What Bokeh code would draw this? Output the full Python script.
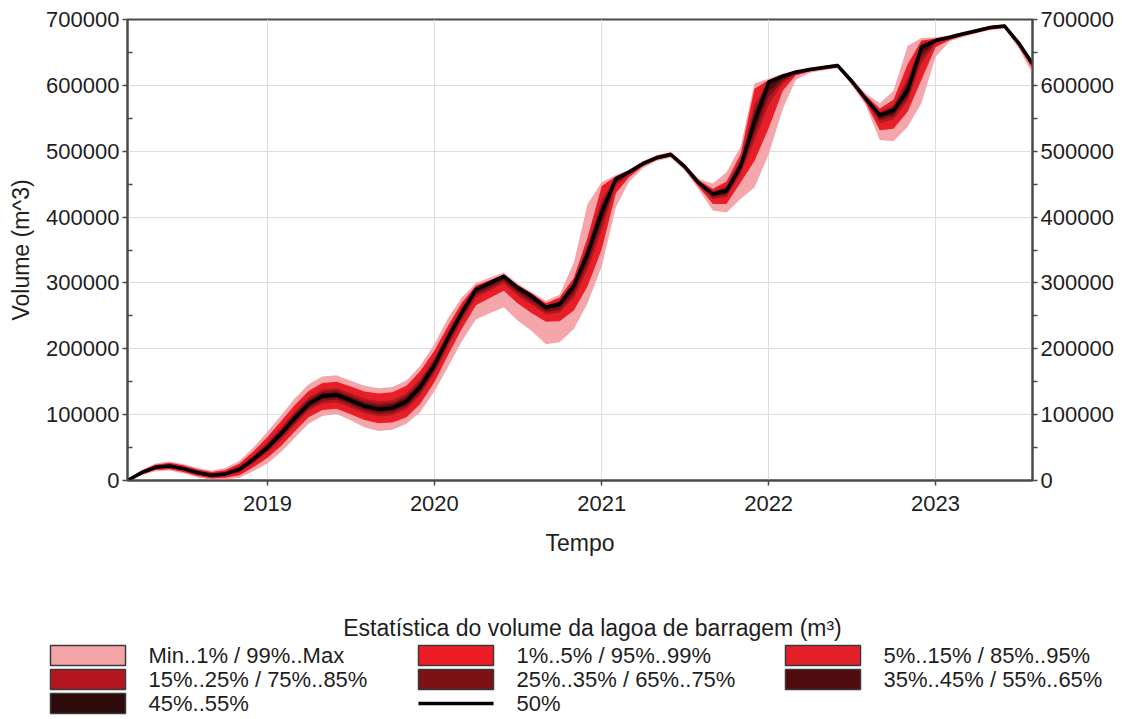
import pandas as pd
from bokeh.plotting import figure
from bokeh.models import (Range1d, LinearAxis, FixedTicker, NumeralTickFormatter,
                          DatetimeTickFormatter, ColumnDataSource)
from bokeh.core.properties import value
from bokeh.embed import file_html
from bokeh.resources import INLINE

# ---------------- data (volumes in thousand m3, monthly Mar 2018 .. Aug 2023) ----------------
first_month = "2018-03-01"
n_months = 66

p50 = [0, 12, 20, 22, 18, 12, 8, 10, 17, 32,
       50, 72, 94, 116, 128, 130, 122, 113, 108, 110, 120, 142,
       175, 218, 255, 290, 300, 310, 293, 280, 263, 268, 296, 345,
       407, 458, 468, 481, 490, 495, 477, 452, 435, 440, 478, 545,
       605, 614, 620, 624, 627, 630, 607, 580, 555, 562, 592, 658,
       668, 673, 678, 683, 688, 690, 665, 633]

# distance of each lower percentile below the median
lo_min = [0, 4, 6, 7, 7, 7, 7, 9, 13, 18,
          24, 28, 30, 30, 30, 29, 30, 32, 33, 33, 34, 38,
          40, 44, 44, 45, 46, 47, 50, 53, 56, 58, 66, 76,
          82, 43, 15, 7, 5, 5, 6, 10, 25, 33, 50, 100,
          110, 50, 12, 5, 4, 4, 6, 10, 38, 47, 55, 85,
          25, 6, 5, 4, 4, 4, 8, 15]
lo_p01 = [0, 3, 4, 5, 5, 5, 5, 6, 9, 12,
          16, 19, 20, 20, 21, 21, 21, 21, 21, 22, 24, 26,
          26, 26, 25, 24, 23, 22, 24, 26, 22, 26, 38, 50,
          56, 22, 8, 4, 3, 3, 4, 6, 15, 20, 25, 60,
          70, 22, 5, 3, 3, 3, 4, 6, 23, 28, 32, 50,
          10, 4, 3, 3, 3, 3, 5, 8]
lo_p05 = [0, 2, 3, 4, 4, 4, 4, 5, 7, 10,
          13, 15, 16, 16, 17, 17, 17, 17, 17, 18, 19, 21,
          21, 21, 20, 19, 18, 18, 19, 21, 18, 21, 30, 40,
          45, 18, 6, 3, 2, 2, 3, 5, 12, 16, 20, 48,
          56, 18, 4, 2, 2, 2, 3, 5, 18, 22, 26, 40,
          8, 3, 2, 2, 2, 2, 4, 6]
lo_p15 = [0, 2, 2, 3, 3, 3, 3, 3, 5, 6,
          8, 10, 10, 10, 11, 11, 11, 11, 11, 11, 12, 13,
          13, 13, 13, 12, 12, 11, 12, 13, 11, 13, 19, 25,
          28, 11, 4, 2, 2, 2, 2, 3, 8, 10, 13, 30,
          35, 11, 3, 2, 2, 2, 2, 3, 12, 14, 16, 25,
          5, 2, 2, 2, 2, 2, 3, 4]
lo_p25 = [0, 1, 1, 2, 2, 2, 2, 2, 3, 4,
          5, 6, 7, 7, 7, 7, 7, 7, 7, 7, 8, 9,
          9, 9, 8, 8, 8, 7, 8, 9, 7, 9, 13, 17,
          18, 7, 3, 1, 1, 1, 1, 2, 5, 7, 8, 20,
          23, 7, 2, 1, 1, 1, 1, 2, 8, 9, 11, 17,
          3, 1, 1, 1, 1, 1, 2, 3]
lo_p35 = [0, 1, 1, 1, 1, 1, 1, 1, 2, 2,
          3, 4, 4, 4, 4, 4, 4, 4, 4, 4, 5, 5,
          5, 5, 5, 5, 5, 4, 5, 5, 4, 5, 8, 10,
          11, 4, 2, 1, 1, 1, 1, 1, 3, 4, 5, 12,
          14, 4, 1, 1, 1, 1, 1, 1, 5, 6, 6, 10,
          2, 1, 1, 1, 1, 1, 1, 2]
lo_p45 = [0, 0, 0, 0, 0, 0, 0, 0, 1, 1,
          1, 1, 1, 1, 1, 1, 1, 1, 1, 2, 2, 2,
          2, 2, 2, 2, 2, 2, 2, 2, 2, 2, 3, 4,
          4, 2, 1, 0, 0, 0, 0, 0, 1, 1, 2, 4,
          5, 2, 0, 0, 0, 0, 0, 0, 2, 2, 2, 4,
          1, 0, 0, 0, 0, 0, 0, 1]

# distance of each upper percentile above the median
hi_max = [0, 4, 6, 7, 7, 7, 7, 9, 13, 18,
          24, 28, 30, 30, 30, 30, 30, 31, 32, 32, 32, 32,
          32, 30, 23, 10, 8, 6, 6, 6, 10, 14, 35, 75,
          46, 6, 4, 4, 4, 4, 4, 6, 16, 28, 30, 58,
          5, 4, 3, 3, 3, 3, 4, 8, 18, 30, 68, 14,
          5, 3, 3, 3, 3, 3, 4, 4]
hi_p99 = [0, 3, 4, 5, 5, 5, 5, 6, 9, 12,
          16, 19, 20, 20, 20, 20, 21, 22, 24, 24, 24, 24,
          22, 18, 15, 6, 4, 3, 4, 4, 6, 10, 12, 24,
          40, 4, 3, 3, 3, 3, 3, 4, 8, 14, 18, 50,
          3, 3, 2, 2, 2, 2, 3, 5, 10, 16, 40, 10,
          3, 2, 2, 2, 2, 2, 3, 3]
hi_p95 = [0, 2, 3, 4, 4, 4, 4, 5, 7, 10,
          13, 15, 16, 16, 16, 16, 17, 18, 19, 19, 19, 19,
          18, 14, 12, 5, 3, 2, 3, 3, 5, 8, 10, 19,
          32, 3, 2, 2, 2, 2, 2, 3, 6, 11, 14, 40,
          2, 2, 2, 2, 2, 2, 2, 4, 8, 13, 32, 8,
          2, 2, 2, 2, 2, 2, 2, 2]
hi_p85 = [0, 2, 2, 3, 3, 3, 3, 3, 5, 6,
          8, 10, 10, 10, 10, 10, 11, 11, 12, 12, 12, 12,
          11, 9, 8, 3, 2, 2, 2, 2, 3, 5, 6, 12,
          20, 2, 2, 2, 2, 2, 2, 2, 4, 7, 9, 25,
          2, 2, 1, 1, 1, 1, 2, 3, 5, 8, 20, 5,
          2, 1, 1, 1, 1, 1, 2, 2]
hi_p75 = [0, 1, 1, 2, 2, 2, 2, 2, 3, 4,
          5, 6, 7, 7, 7, 7, 7, 7, 8, 8, 8, 8,
          7, 6, 5, 2, 1, 1, 1, 1, 2, 3, 4, 8,
          13, 1, 1, 1, 1, 1, 1, 1, 3, 5, 6, 17,
          1, 1, 1, 1, 1, 1, 1, 2, 3, 5, 13, 3,
          1, 1, 1, 1, 1, 1, 1, 1]
hi_p65 = [0, 1, 1, 1, 1, 1, 1, 1, 2, 2,
          3, 4, 4, 4, 4, 4, 4, 4, 5, 5, 5, 5,
          4, 4, 3, 1, 1, 1, 1, 1, 1, 2, 2, 5,
          8, 1, 1, 1, 1, 1, 1, 1, 2, 3, 4, 10,
          1, 1, 0, 0, 0, 0, 1, 1, 2, 3, 8, 2,
          1, 0, 0, 0, 0, 0, 1, 1]
hi_p55 = [0, 0, 0, 0, 0, 0, 0, 0, 1, 1,
          1, 1, 1, 1, 1, 1, 1, 1, 2, 2, 2, 2,
          2, 1, 1, 0, 0, 0, 0, 0, 0, 1, 1, 2,
          3, 0, 0, 0, 0, 0, 0, 0, 1, 1, 1, 4,
          0, 0, 0, 0, 0, 0, 0, 0, 1, 1, 3, 1,
          0, 0, 0, 0, 0, 0, 0, 0]

band_labels = ["Min..1% / 99%..Max", "1%..5% / 95%..99%", "5%..15% / 85%..95%",
               "15%..25% / 75%..85%", "25%..35% / 65%..75%", "35%..45% / 55%..65%",
               "45%..55%"]
median_label = "50%"
band_colors = ["#F5A6AB", "#EE1C25", "#E3202A", "#B3161E", "#7C1116", "#4F0B0E", "#2E0A0B"]
lower_spreads = [lo_min, lo_p01, lo_p05, lo_p15, lo_p25, lo_p35, lo_p45]
upper_spreads = [hi_max, hi_p99, hi_p95, hi_p85, hi_p75, hi_p65, hi_p55]

year_ticks = [2019, 2020, 2021, 2022, 2023]
y_ticks = [0, 100000, 200000, 300000, 400000, 500000, 600000, 700000]
y_minor = [50000, 150000, 250000, 350000, 450000, 550000, 650000]

title_legend = "Estatística do volume da lagoa de barragem (m³)"
x_title = "Tempo"
y_title = "Volume (m^3)"

# ---------------- main figure ----------------
FONT = "Liberation Sans"
TXT = "#1e1e1e"
AX = "#4a4a4a"
W = 1116

dates = pd.date_range(first_month, periods=n_months, freq="MS")
x_start, x_end = dates[0], dates[-1]

p = figure(width=W, height=575, x_axis_type="datetime",
           x_range=Range1d(x_start, x_end), y_range=Range1d(0, 700000),
           output_backend="svg", toolbar_location=None,
           min_border_left=127, min_border_right=84, min_border_top=19,
           min_border_bottom=95)
p.background_fill_color = "white"
p.border_fill_color = "white"
p.outline_line_color = AX
p.outline_line_width = 2

for lo, hi, col in zip(lower_spreads, upper_spreads, band_colors):
    y1 = [(m - d) * 1000 for m, d in zip(p50, lo)]
    y2 = [(m + d) * 1000 for m, d in zip(p50, hi)]
    p.varea(x=dates, y1=y1, y2=y2, fill_color=col, fill_alpha=1.0)

p.line(x=dates, y=[v * 1000 for v in p50], line_color="black",
       line_width=3.5, line_join="round")

# x axis
xax = p.xaxis[0]
xax.ticker = FixedTicker(ticks=[pd.Timestamp(f"{y}-01-01").value // 10**6 for y in year_ticks])
fmt = "%Y"
xax.formatter = DatetimeTickFormatter(years=fmt, months=fmt, days=fmt, hours=fmt,
                                      hourmin=fmt, minutes=fmt, minsec=fmt,
                                      seconds=fmt, milliseconds=fmt, microseconds=fmt)
xax.axis_label = x_title
xax.major_tick_out = 5
xax.major_tick_in = 0
xax.minor_tick_out = 0
xax.minor_tick_in = 0
xax.major_label_standoff = 10
xax.axis_label_standoff = 16

# left y axis
yax = p.yaxis[0]
yax.ticker = FixedTicker(ticks=y_ticks, minor_ticks=y_minor)
yax.formatter = NumeralTickFormatter(format="0")
yax.axis_label = y_title
yax.major_tick_out = 5
yax.major_tick_in = 0
yax.minor_tick_in = 5
yax.minor_tick_out = 0
yax.major_label_standoff = 3
yax.axis_label_standoff = 9

# right y axis
rax = LinearAxis(ticker=FixedTicker(ticks=y_ticks, minor_ticks=y_minor),
                 formatter=NumeralTickFormatter(format="0"))
rax.major_tick_out = 5
rax.major_tick_in = 0
rax.minor_tick_out = 5
rax.minor_tick_in = 0
rax.major_label_standoff = 3
p.add_layout(rax, "right")

for ax in [xax, yax, rax]:
    ax.axis_line_color = AX
    ax.axis_line_width = 2
    ax.major_tick_line_color = AX
    ax.major_tick_line_width = 1.5
    ax.minor_tick_line_color = AX
    ax.minor_tick_line_width = 1.5
    ax.major_label_text_font = FONT
    ax.major_label_text_font_size = "22px"
    ax.major_label_text_color = TXT
    ax.axis_label_text_font = FONT
    ax.axis_label_text_font_size = "23px"
    ax.axis_label_text_font_style = "normal"
    ax.axis_label_text_color = TXT

p.xgrid.grid_line_color = "#dedede"
p.ygrid.grid_line_color = "#dedede"
p.xgrid.grid_line_width = 1
p.ygrid.grid_line_width = 1

# ---------------- legend panel (separate root, pixel-like coordinates) ----------------
LH = 143
lg = figure(width=W, height=LH, x_range=Range1d(0, W), y_range=Range1d(LH, 0),
            output_backend="svg", toolbar_location=None,
            x_axis_location=None, y_axis_location=None,
            min_border_left=0, min_border_right=0, min_border_top=0, min_border_bottom=0)
lg.grid.visible = False
lg.outline_line_color = None
lg.background_fill_color = "white"
lg.border_fill_color = "white"

col_left = [50, 418, 785]          # swatch left edge of each legend column
row_mid = [80, 104, 128]           # vertical centre of each legend row
sw_w, sw_h, gap = 75, 20, 23

band_cells = [(i % 3, i // 3) for i in range(len(band_labels))]
median_cell = (1, 2)

sw = ColumnDataSource(dict(
    left=[col_left[c] for c, r in band_cells],
    right=[col_left[c] + sw_w for c, r in band_cells],
    top=[row_mid[r] - sw_h / 2 for c, r in band_cells],
    bottom=[row_mid[r] + sw_h / 2 for c, r in band_cells],
    color=band_colors))
lg.quad(left="left", right="right", top="top", bottom="bottom", source=sw,
        fill_color="color", line_color="#3a3a3a", line_width=1.5)

mc, mr = median_cell
lg.segment(x0=[col_left[mc]], x1=[col_left[mc] + sw_w], y0=[row_mid[mr]], y1=[row_mid[mr]],
           line_color="black", line_width=3.5)

txt = ColumnDataSource(dict(
    x=[col_left[c] + sw_w + gap for c, r in band_cells] + [col_left[mc] + sw_w + gap],
    y=[row_mid[r] for c, r in band_cells] + [row_mid[mr]],
    text=band_labels + [median_label]))
lg.text(x="x", y="y", text="text", source=txt, text_baseline="middle",
        text_align="left", text_font=value(FONT), text_font_size=value("22px"),
        text_color=TXT)

lg.text(x=[592], y=[52], text=[title_legend], text_baseline="middle", text_align="center",
        text_font=value(FONT), text_font_size=value("23px"), text_color=TXT)

open("out.html", "w").write(file_html([p, lg], INLINE))
